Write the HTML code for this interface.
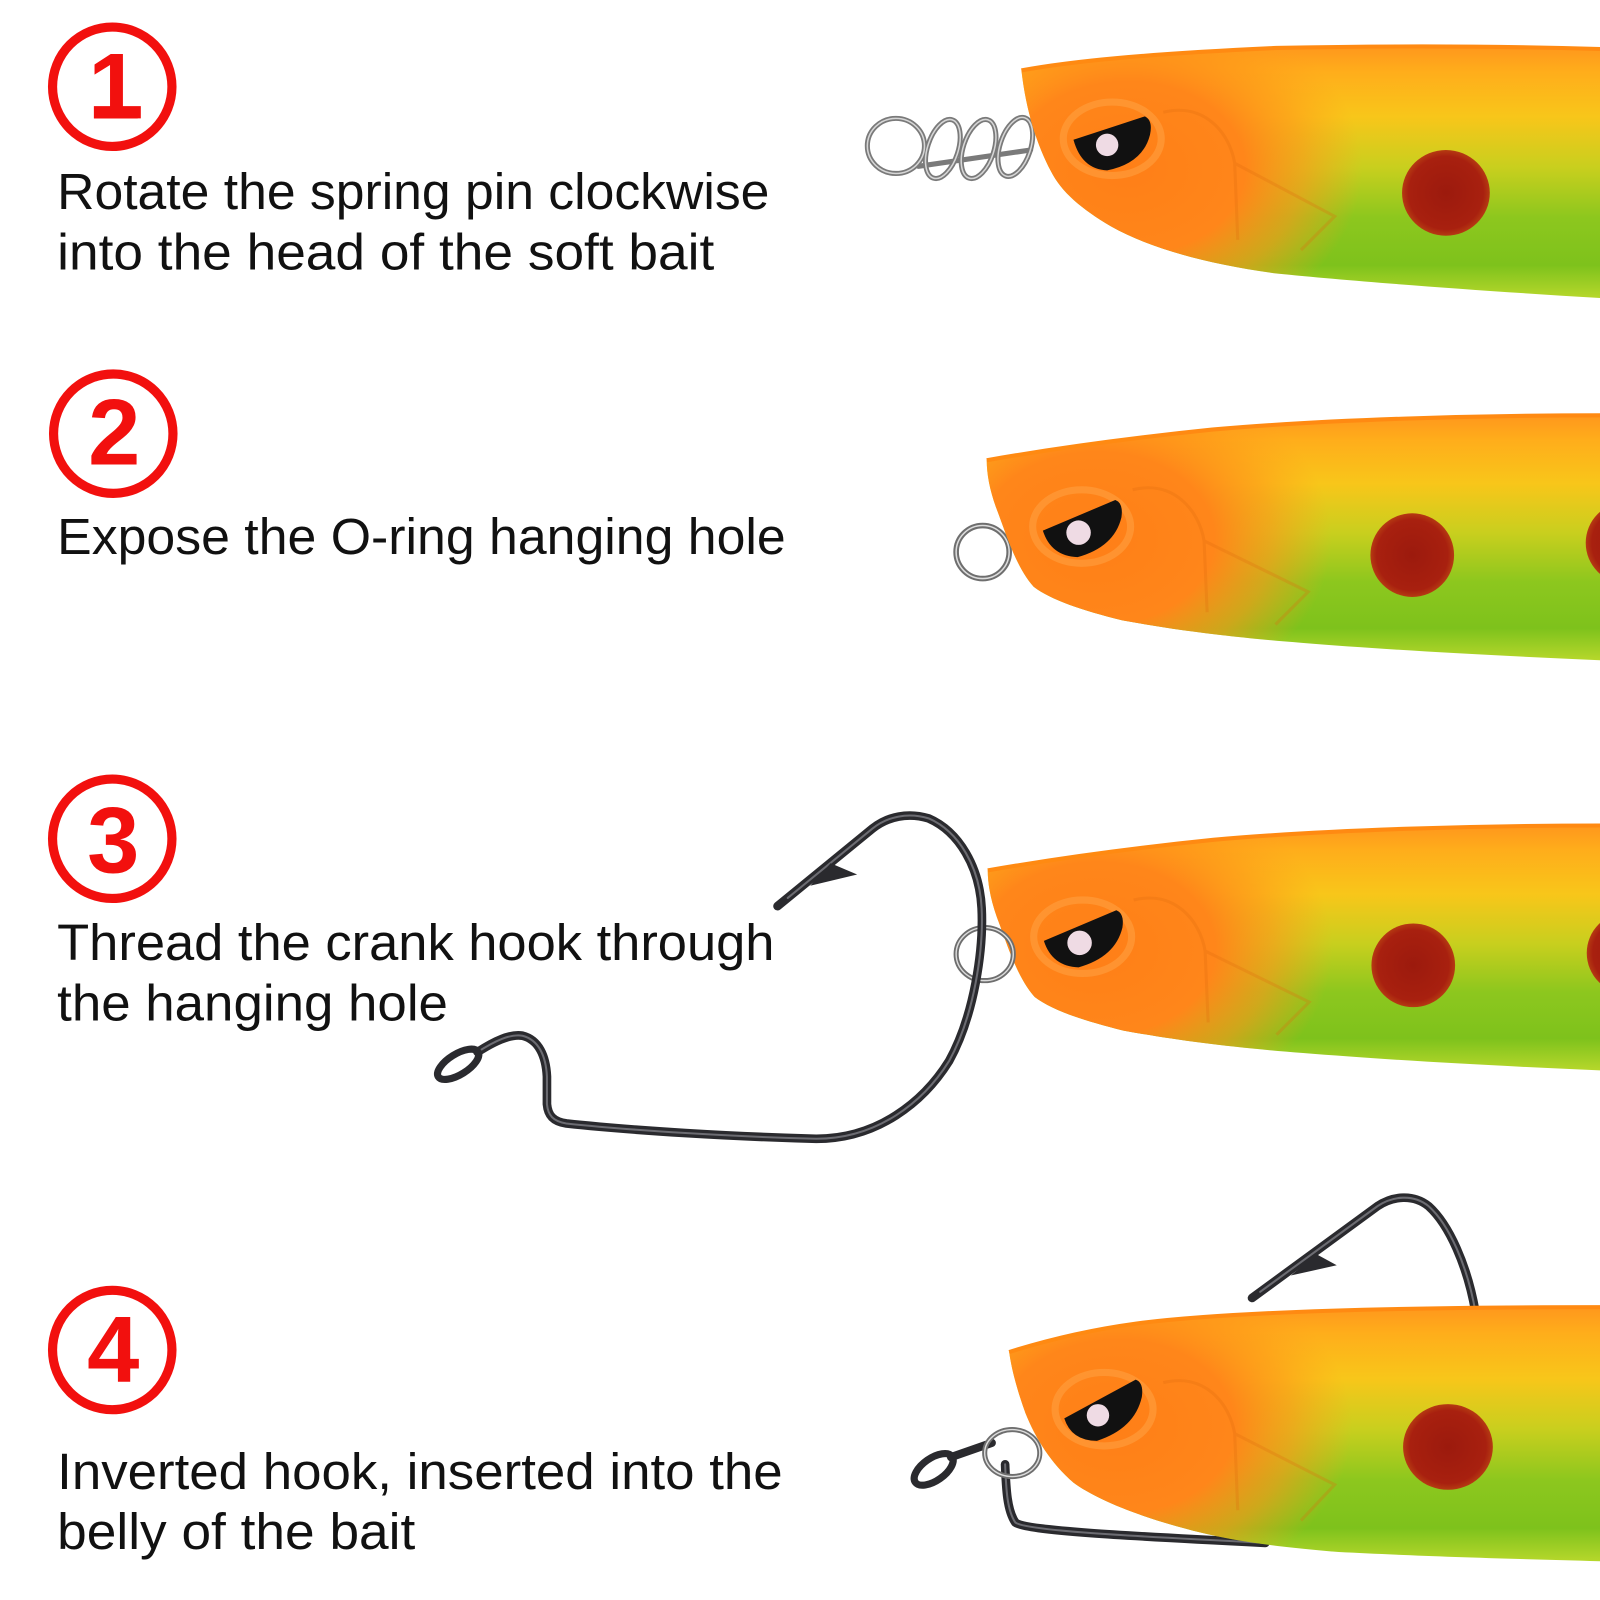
<!DOCTYPE html>
<html>
<head>
<meta charset="utf-8">
<style>
html,body{margin:0;padding:0;background:#fff;}
svg{display:block;}
</style>
</head>
<body>
<svg width="1600" height="1600" viewBox="0 0 1568 1568" xmlns="http://www.w3.org/2000/svg" xmlns:xlink="http://www.w3.org/1999/xlink">
<defs>
  <linearGradient id="bodyG" x1="0" y1="0" x2="0" y2="1">
    <stop offset="0" stop-color="#ff971c"/>
    <stop offset="0.1" stop-color="#ffad1b"/>
    <stop offset="0.28" stop-color="#f8c61a"/>
    <stop offset="0.48" stop-color="#c9cf1e"/>
    <stop offset="0.68" stop-color="#8dc71e"/>
    <stop offset="0.87" stop-color="#7ec21c"/>
    <stop offset="1" stop-color="#b6d72b"/>
  </linearGradient>
  <radialGradient id="head1" gradientUnits="userSpaceOnUse" cx="1105" cy="165" r="200" gradientTransform="translate(1105 165) scale(1.15 0.85) translate(-1105 -165)">
    <stop offset="0" stop-color="#ff7f17" stop-opacity="1"/>
    <stop offset="0.5" stop-color="#ff861a" stop-opacity="1"/>
    <stop offset="0.75" stop-color="#ff951a" stop-opacity="0.6"/>
    <stop offset="1" stop-color="#ffa01a" stop-opacity="0"/>
  </radialGradient>
  <radialGradient id="head2" gradientUnits="userSpaceOnUse" cx="1075" cy="528" r="200" gradientTransform="translate(1075 528) scale(1.15 0.85) translate(-1075 -528)">
    <stop offset="0" stop-color="#ff7f17" stop-opacity="1"/>
    <stop offset="0.5" stop-color="#ff861a" stop-opacity="1"/>
    <stop offset="0.75" stop-color="#ff951a" stop-opacity="0.6"/>
    <stop offset="1" stop-color="#ffa01a" stop-opacity="0"/>
  </radialGradient>
  <radialGradient id="head4" gradientUnits="userSpaceOnUse" cx="1095" cy="1398" r="200" gradientTransform="translate(1095 1398) scale(1.15 0.85) translate(-1095 -1398)">
    <stop offset="0" stop-color="#ff7f17" stop-opacity="1"/>
    <stop offset="0.5" stop-color="#ff861a" stop-opacity="1"/>
    <stop offset="0.75" stop-color="#ff951a" stop-opacity="0.6"/>
    <stop offset="1" stop-color="#ffa01a" stop-opacity="0"/>
  </radialGradient>
  <radialGradient id="spotG" cx="0.5" cy="0.5" r="0.5">
    <stop offset="0" stop-color="#9c1a0d"/>
    <stop offset="0.85" stop-color="#a8200f"/>
    <stop offset="1" stop-color="#b53a12"/>
  </radialGradient>

  <g id="fish2">
    <path d="M 967 451 C 1030 440, 1100 430, 1188 421 C 1300 411, 1450 407, 1568 407 L 1568 647 C 1450 642, 1350 636, 1276 630 C 1200 624, 1150 617, 1100 608 C 1060 598, 1030 588, 1013 575 C 995 555, 985 520, 976 497 C 970 480, 967 465, 967 451 Z" fill="url(#bodyG)"/>
    <path d="M 967 451 C 1030 440, 1100 430, 1188 421 C 1300 411, 1450 407, 1568 407 L 1568 647 C 1450 642, 1350 636, 1276 630 C 1200 624, 1150 617, 1100 608 C 1060 598, 1030 588, 1013 575 C 995 555, 985 520, 976 497 C 970 480, 967 465, 967 451 Z" fill="url(#head2)"/>
    <path d="M 967 451 C 1030 440, 1100 430, 1188 421 C 1300 411, 1450 407, 1568 407" fill="none" stroke="#ff8a12" stroke-width="4"/>
    <path d="M 1110 480 C 1150 470, 1175 500, 1180 530 L 1183 600 M 1180 530 L 1282 580 L 1250 612" fill="none" stroke="#e06a10" stroke-opacity="0.28" stroke-width="3"/>
    <ellipse cx="1060" cy="516" rx="48" ry="36" fill="none" stroke="#ffa548" stroke-opacity="0.5" stroke-width="7"/>
    <path d="M 1022 520 L 1093 490 Q 1101 493 1099 507 Q 1092 536 1056 546 Q 1030 545 1022 520 Z" fill="#111"/>
    <circle cx="1057" cy="522" r="12" fill="#efdbe4"/>
    <ellipse cx="1384" cy="544" rx="41" ry="41" fill="url(#spotG)"/>
    <ellipse cx="1594" cy="532" rx="40" ry="40" fill="url(#spotG)"/>
  </g>
</defs>

<rect x="0" y="0" width="1568" height="1568" fill="#ffffff"/>

<!-- ===== Numbers ===== -->
<g fill="none" stroke="#f2100e" stroke-width="9">
  <circle cx="110" cy="85" r="58.5"/>
  <circle cx="111" cy="425" r="58.5"/>
  <circle cx="110" cy="822" r="58.5"/>
  <circle cx="110" cy="1323" r="58.5"/>
</g>
<g fill="#f2100e" font-family="'Liberation Sans', Arial, sans-serif" font-weight="bold" font-size="92" text-anchor="middle">
  <text x="112" y="116">1</text>
  <text x="112" y="455">2</text>
  <text x="111" y="855">3</text>
  <text x="111" y="1354">4</text>
</g>
<rect x="92" y="104" width="46" height="12" fill="#f2100e"/>

<!-- ===== Text ===== -->
<g fill="#111" font-family="'Liberation Sans', Arial, sans-serif" font-size="50">
  <text x="56" y="205" textLength="698" lengthAdjust="spacingAndGlyphs">Rotate the spring pin clockwise</text>
  <text x="56" y="264" textLength="644" lengthAdjust="spacingAndGlyphs">into the head of the soft bait</text>
  <text x="56" y="543" textLength="714" lengthAdjust="spacingAndGlyphs">Expose the O-ring hanging hole</text>
  <text x="56" y="941" textLength="703" lengthAdjust="spacingAndGlyphs">Thread the crank hook through</text>
  <text x="56" y="1000" textLength="383" lengthAdjust="spacingAndGlyphs">the hanging hole</text>
  <text x="56" y="1459" textLength="711" lengthAdjust="spacingAndGlyphs">Inverted hook, inserted into the</text>
  <text x="56" y="1518" textLength="351" lengthAdjust="spacingAndGlyphs">belly of the bait</text>
</g>

<!-- ===== Fish 1 with spring ===== -->
<g fill="none" stroke-linecap="round">
  <g stroke="#7a7a7a" stroke-width="5">
    <ellipse cx="878" cy="143" rx="28" ry="27"/>
    <path d="M 900 163 L 1010 147"/>
    <ellipse cx="924" cy="146" rx="15" ry="30" transform="rotate(18 924 146)"/>
    <ellipse cx="959" cy="146" rx="15" ry="30" transform="rotate(18 959 146)"/>
    <ellipse cx="995" cy="144" rx="15" ry="30" transform="rotate(18 995 144)"/>
  </g>
  <g stroke="#d6d6d6" stroke-width="1.5">
    <ellipse cx="878" cy="143" rx="28" ry="27"/>
    <ellipse cx="924" cy="146" rx="15" ry="30" transform="rotate(18 924 146)"/>
    <ellipse cx="959" cy="146" rx="15" ry="30" transform="rotate(18 959 146)"/>
    <ellipse cx="995" cy="144" rx="15" ry="30" transform="rotate(18 995 144)"/>
  </g>
</g>
<path d="M 1001 69 C 1050 60, 1120 53, 1251 47 C 1400 44, 1500 46, 1568 48 L 1568 292 C 1450 285, 1330 276, 1251 268 C 1190 260, 1130 245, 1089 222 C 1060 205, 1040 188, 1030 168 C 1015 140, 1005 105, 1001 69 Z" fill="url(#bodyG)"/>
<path d="M 1001 69 C 1050 60, 1120 53, 1251 47 C 1400 44, 1500 46, 1568 48 L 1568 292 C 1450 285, 1330 276, 1251 268 C 1190 260, 1130 245, 1089 222 C 1060 205, 1040 188, 1030 168 C 1015 140, 1005 105, 1001 69 Z" fill="url(#head1)"/>
<path d="M 1001 69 C 1050 60, 1120 53, 1251 47 C 1400 44, 1500 46, 1568 48" fill="none" stroke="#ff8a12" stroke-width="4"/>
<path d="M 1140 110 C 1180 100, 1205 130, 1210 160 L 1213 235 M 1210 160 L 1308 212 L 1275 245" fill="none" stroke="#e06a10" stroke-opacity="0.28" stroke-width="3"/>
<ellipse cx="1090" cy="136" rx="48" ry="36" fill="none" stroke="#ffa548" stroke-opacity="0.5" stroke-width="7"/>
<path d="M 1052 137 L 1122 114 Q 1130 118 1127 132 Q 1120 160 1085 167 Q 1060 166 1052 137 Z" fill="#111"/>
<circle cx="1085" cy="142" r="11" fill="#efdbe4"/>
<ellipse cx="1417" cy="189" rx="43" ry="42" fill="url(#spotG)"/>

<!-- ===== Fish 2 ===== -->
<g fill="none">
  <circle cx="963" cy="541" r="26" stroke="#6e6e6e" stroke-width="5.5"/>
  <circle cx="963" cy="541" r="26" stroke="#dcdcdc" stroke-width="1.5"/>
</g>
<use xlink:href="#fish2" href="#fish2"/>

<!-- ===== Fish 3 ===== -->
<use xlink:href="#fish2" href="#fish2" transform="translate(1 402)"/>
<g fill="none">
  <ellipse cx="965" cy="935" rx="28" ry="26" stroke="#6e6e6e" stroke-width="5"/>
  <ellipse cx="965" cy="935" rx="28" ry="26" stroke="#dcdcdc" stroke-width="1.4"/>
</g>
<!-- hook 3 -->
<g fill="none" stroke-linecap="round" stroke-linejoin="round">
  <path d="M 468 1031 C 485 1020, 500 1013, 512 1015 C 528 1019, 535 1035, 536 1055 L 536 1082 C 537 1093, 542 1099, 555 1101 C 620 1108, 720 1114, 800 1116 C 860 1116, 905 1080, 930 1040 C 955 995, 964 930, 962 890 C 960 850, 940 815, 910 802 C 890 796, 870 800, 855 812 L 762 888" stroke="#2a2a2e" stroke-width="8.5"/>
  <path d="M 468 1031 C 485 1020, 500 1013, 512 1015 C 528 1019, 535 1035, 536 1055 L 536 1082 C 537 1093, 542 1099, 555 1101 C 620 1108, 720 1114, 800 1116 C 860 1116, 905 1080, 930 1040 C 955 995, 964 930, 962 890 C 960 850, 940 815, 910 802 C 890 796, 870 800, 855 812 L 772 880" stroke="#6c6c72" stroke-width="2"/>
  <ellipse cx="449" cy="1043" rx="23" ry="10" transform="rotate(-32 449 1043)" stroke="#2a2a2e" stroke-width="7"/>
</g>
<path d="M 814 846 L 840 857 L 794 868 Z" fill="#2a2a2e"/>

<!-- ===== Fish 4 ===== -->
<g fill="none" stroke-linecap="round" stroke-linejoin="round">
  <path d="M 1227 1272 L 1350 1182 C 1365 1172, 1385 1170, 1400 1182 C 1420 1200, 1438 1240, 1446 1286" stroke="#2a2a2e" stroke-width="8.5"/>
  <path d="M 1235 1266 L 1350 1182 C 1365 1172, 1385 1170, 1400 1182 C 1420 1200, 1438 1240, 1446 1286" stroke="#6c6c72" stroke-width="2"/>
  <path d="M 985 1435 C 986 1460, 987 1480, 995 1492 C 1005 1500, 1100 1505, 1240 1512" stroke="#2a2a2e" stroke-width="8.5"/>
  <path d="M 985 1435 C 986 1460, 987 1480, 995 1492 C 1005 1500, 1100 1505, 1240 1512" stroke="#6c6c72" stroke-width="2"/>
  <ellipse cx="915" cy="1440" rx="22" ry="11" transform="rotate(-35 915 1440)" stroke="#2a2a2e" stroke-width="7"/>
  <path d="M 932 1428 L 972 1414" stroke="#2a2a2e" stroke-width="8"/>
  <ellipse cx="992" cy="1424" rx="27" ry="23" stroke="#6e6e6e" stroke-width="5"/>
  <ellipse cx="992" cy="1424" rx="27" ry="23" stroke="#dcdcdc" stroke-width="1.4"/>
</g>
<path d="M 1290 1229 L 1310 1240 L 1265 1250 Z" fill="#2a2a2e"/>
<path d="M 989 1325 C 1030 1312, 1070 1303, 1114 1297 C 1200 1286, 1350 1281, 1568 1281 L 1568 1530 C 1450 1527, 1370 1524, 1312 1521 C 1250 1516, 1210 1510, 1177 1502 C 1120 1488, 1075 1470, 1052 1453 C 1030 1434, 1015 1410, 1005 1385 C 996 1360, 991 1340, 989 1325 Z" fill="url(#bodyG)"/>
<path d="M 989 1325 C 1030 1312, 1070 1303, 1114 1297 C 1200 1286, 1350 1281, 1568 1281 L 1568 1530 C 1450 1527, 1370 1524, 1312 1521 C 1250 1516, 1210 1510, 1177 1502 C 1120 1488, 1075 1470, 1052 1453 C 1030 1434, 1015 1410, 1005 1385 C 996 1360, 991 1340, 989 1325 Z" fill="url(#head4)"/>
<path d="M 989 1325 C 1030 1312, 1070 1303, 1114 1297 C 1200 1286, 1350 1281, 1568 1281" fill="none" stroke="#ff8a12" stroke-width="4"/>
<path d="M 1140 1355 C 1180 1345, 1205 1375, 1210 1405 L 1213 1480 M 1210 1405 L 1308 1455 L 1275 1490" fill="none" stroke="#e06a10" stroke-opacity="0.28" stroke-width="3"/>
<ellipse cx="1082" cy="1381" rx="48" ry="36" fill="none" stroke="#ffa548" stroke-opacity="0.5" stroke-width="7"/>
<path d="M 1043 1390 L 1113 1352 Q 1121 1355 1119 1369 Q 1112 1400 1075 1412 Q 1050 1412 1043 1390 Z" fill="#111"/>
<circle cx="1076" cy="1387" r="11" fill="#efdbe4"/>
<ellipse cx="1419" cy="1418" rx="44" ry="42" fill="url(#spotG)"/>
</svg>
</body>
</html>
